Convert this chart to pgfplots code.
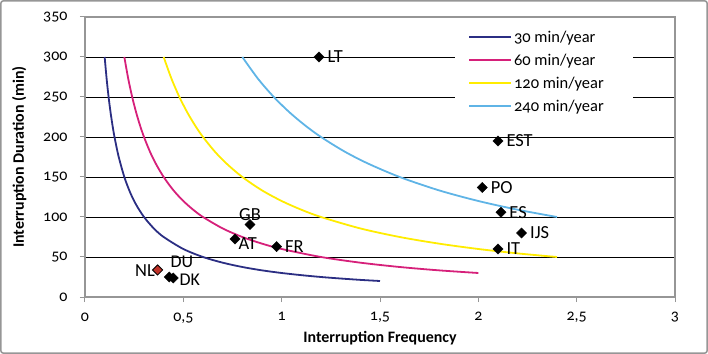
\documentclass[border=0pt]{standalone}
\usepackage{pgfplots}
\pgfplotsset{compat=1.18}
\usepackage{fontspec}
\setmainfont[Numbers=OldStyle]{Carlito}
\definecolor{c30}{RGB}{43,46,131}
\definecolor{c60}{RGB}{214,32,122}
\definecolor{c120}{RGB}{255,236,0}
\definecolor{c240}{RGB}{95,180,230}
\definecolor{nlred}{RGB}{190,50,40}
\definecolor{framegray}{RGB}{150,150,150}
\begin{document}
\begin{tikzpicture}
\useasboundingbox (-85bp,-57bp) rectangle (623bp,297bp);
\begin{axis}[
  at={(0,0)}, anchor=south west,
  scale only axis, width=590bp, height=280bp,
  xmin=0, xmax=3, ymin=0, ymax=350,
  xtick={0,0.5,1,1.5,2,2.5,3},
  ytick={0,50,100,150,200,250,300,350},
  xtick pos=bottom, ytick pos=left,
  tick align=outside, major tick length=5bp,
  tick style={framegray, line width=1bp},
  axis line style={framegray, line width=1.5bp},
  ymajorgrids, grid style={black, line width=0.7bp},
  /pgf/number format/assume math mode=true,
  /pgf/number format/use comma,
  tick label style={font=\fontsize{16}{18}\selectfont},
  yticklabel style={xshift=-9bp},
  xticklabel style={yshift=-7bp},
  xlabel={Interruption Frequency},
  ylabel={Interruption Duration (min)},
  label style={font=\bfseries\fontsize{16}{18}\selectfont},
  xlabel style={yshift=-1bp},
  ylabel style={yshift=10bp},
  legend style={at={(0.649,0.958)}, anchor=north west, draw=none, fill=none,
    inner sep=0pt, font=\fontsize{16.5}{18}\selectfont, row sep=6bp},
  legend cell align=left,
  legend image code/.code={\draw[#1, line width=2bp] (0bp,0bp) -- (42bp,0bp);},
]
\fill[white] (axis cs:1.88,349) rectangle (axis cs:2.786,221);
\addplot[c30, line width=1.8bp, smooth] coordinates {
(0.10,300) (0.11,272.7) (0.12,250) (0.13,230.8) (0.14,214.3) (0.15,200)
(0.17,176.5) (0.20,150) (0.23,130.4) (0.26,115.4) (0.30,100) (0.35,85.7)
(0.40,75) (0.50,60) (0.60,50) (0.70,42.9) (0.80,37.5) (0.90,33.3) (1.00,30)
(1.10,27.3) (1.20,25) (1.30,23.1) (1.40,21.4) (1.50,20)};
\addlegendentry{30 min/year}
\addplot[c60, line width=1.8bp, smooth] coordinates {
(0.20,300) (0.22,272.7) (0.24,250) (0.26,230.8) (0.28,214.3) (0.30,200)
(0.33,181.8) (0.36,166.7) (0.40,150) (0.45,133.3) (0.50,120) (0.55,109.1)
(0.60,100) (0.70,85.7) (0.80,75) (0.90,66.7) (1.00,60) (1.20,50) (1.40,42.9)
(1.60,37.5) (1.80,33.3) (2.00,30)};
\addlegendentry{60 min/year}
\addplot[c120, line width=1.8bp, smooth] coordinates {
(0.40,300) (0.44,272.7) (0.48,250) (0.52,230.8) (0.56,214.3) (0.60,200)
(0.66,181.8) (0.72,166.7) (0.80,150) (0.90,133.3) (1.00,120) (1.10,109.1)
(1.20,100) (1.40,85.7) (1.60,75) (1.80,66.7) (2.00,60) (2.20,54.5) (2.40,50)};
\addlegendentry{120 min/year}
\addplot[c240, line width=1.8bp, smooth] coordinates {
(0.80,300) (0.88,272.7) (0.96,250) (1.04,230.8) (1.12,214.3) (1.20,200)
(1.32,181.8) (1.44,166.7) (1.60,150) (1.80,133.3) (2.00,120) (2.20,109.1)
(2.40,100)};
\addlegendentry{240 min/year}
% points labelled on the right
\addplot[forget plot, only marks, mark=square*, mark size=3.6bp,
  mark options={rotate=45, fill=black, draw=black},
  nodes near coords, point meta=explicit symbolic,
  nodes near coords style={anchor=west, xshift=5bp, yshift=0bp, black,
    font=\fontsize{18.5}{20}\selectfont}]
  table[meta=label] {
x y label
1.19 300 LT
2.10 195 EST
2.02 137 PO
2.115 106 ES
2.22 80 IJS
2.10 60 IT
0.974 63 FR
};
% DK right
\addplot[forget plot, only marks, mark=square*, mark size=3.6bp,
  mark options={rotate=45, fill=black, draw=black},
  nodes near coords, point meta=explicit symbolic,
  nodes near coords style={anchor=west, xshift=6bp, yshift=-2bp, black, inner sep=0pt,
    font=\fontsize{18}{20}\selectfont}]
  table[meta=label] {
x y label
0.449 23.8 DK
};
% AT slightly lower
\addplot[forget plot, only marks, mark=square*, mark size=3.6bp,
  mark options={rotate=45, fill=black, draw=black},
  nodes near coords, point meta=explicit symbolic,
  nodes near coords style={anchor=west, xshift=0bp, yshift=-5bp, black,
    font=\fontsize{18.5}{20}\selectfont}]
  table[meta=label] {
x y label
0.763 72.5 AT
};
% GB above
\addplot[forget plot, only marks, mark=square*, mark size=3.6bp,
  mark options={rotate=45, fill=black, draw=black},
  nodes near coords, point meta=explicit symbolic,
  nodes near coords style={anchor=south, yshift=0bp, black,
    font=\fontsize{18.5}{20}\selectfont}]
  table[meta=label] {
x y label
0.839 90.5 GB
};
% DU above right
\addplot[forget plot, only marks, mark=square*, mark size=3.6bp,
  mark options={rotate=45, fill=black, draw=black},
  nodes near coords, point meta=explicit symbolic,
  nodes near coords style={anchor=base west, xshift=1bp, yshift=10bp, black, inner sep=0pt,
    font=\fontsize{18}{20}\selectfont}]
  table[meta=label] {
x y label
0.429 25 DU
};
% NL red, label left
\addplot[forget plot, only marks, mark=square*, mark size=3.6bp,
  mark options={rotate=45, fill=nlred, draw=black, line width=0.8bp},
  nodes near coords, point meta=explicit symbolic,
  nodes near coords style={anchor=east, xshift=1bp, yshift=-1bp, black,
    font=\fontsize{18.5}{20}\selectfont}]
  table[meta=label] {
x y label
0.369 33.8 NL
};
\end{axis}
\draw[framegray, line width=1.5bp, rounded corners=2bp] (-84bp,-56bp) rectangle (622bp,296bp);
\end{tikzpicture}
\end{document}
